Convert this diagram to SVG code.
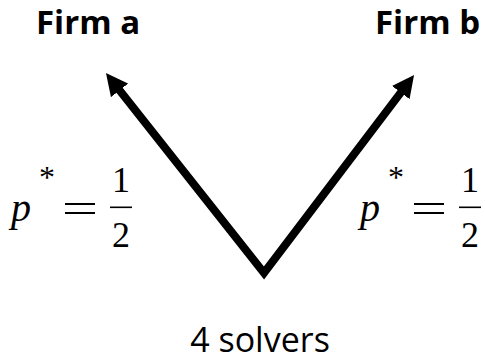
<svg xmlns="http://www.w3.org/2000/svg" width="485" height="363" viewBox="0 0 485 363">
<style>
.firm{font-family:"Open Sans","Liberation Sans",sans-serif;font-weight:bold;font-size:33px;fill:#000}
.lbl{font-family:"Open Sans","Liberation Sans",sans-serif;font-size:34px;fill:#000}
.m{font-family:'Liberation Serif',serif;font-size:36px;fill:#000}
.mi{font-style:italic;font-size:40px}
.star{font-family:'Liberation Serif',serif;font-size:32px;fill:#000}
.bar{fill:#000}
.edge{fill:none;stroke:#000;stroke-width:8;stroke-linejoin:miter}
</style>
<defs>
<marker id="ah" viewBox="0 0 22 22" refX="10" refY="11" markerWidth="22" markerHeight="22" markerUnits="userSpaceOnUse" orient="auto-start-reverse">
<path d="M0,0 L22,11 L0,22 z" fill="#000"/>
</marker>
</defs>
<rect width="485" height="363" fill="#fff"/>
<g id="connectors">
<polyline class="edge" points="113.4,82.5 264,273 406.8,84.6" marker-start="url(#ah)" marker-end="url(#ah)"/>
</g>
<g id="firm-a"><text class="firm" x="36" y="34">Firm a</text></g>
<g id="firm-b"><text class="firm" x="375" y="34">Firm b</text></g>
<g id="price-a">
<text class="m mi" x="11" y="221" font-family="Liberation Serif">p</text>
<text class="star" x="39" y="188" font-family="Liberation Serif">*</text>
<rect class="bar" x="65" y="203" width="30" height="2"/>
<rect class="bar" x="65" y="212" width="30" height="2"/>
<text class="m" x="121" y="192" text-anchor="middle" font-family="Liberation Serif">1</text>
<rect class="bar" x="110" y="206.5" width="22" height="1.6"/>
<text class="m" x="121" y="247" text-anchor="middle" font-family="Liberation Serif">2</text>
</g>
<g id="price-b">
<text class="m mi" x="360" y="221" font-family="Liberation Serif">p</text>
<text class="star" x="388" y="188" font-family="Liberation Serif">*</text>
<rect class="bar" x="414" y="203" width="30" height="2"/>
<rect class="bar" x="414" y="212" width="30" height="2"/>
<text class="m" x="470" y="192" text-anchor="middle" font-family="Liberation Serif">1</text>
<rect class="bar" x="459" y="206.5" width="22" height="1.6"/>
<text class="m" x="470" y="247" text-anchor="middle" font-family="Liberation Serif">2</text>
</g>
<g id="solvers"><text class="lbl" x="260" y="352" text-anchor="middle">4 solvers</text></g>
</svg>
